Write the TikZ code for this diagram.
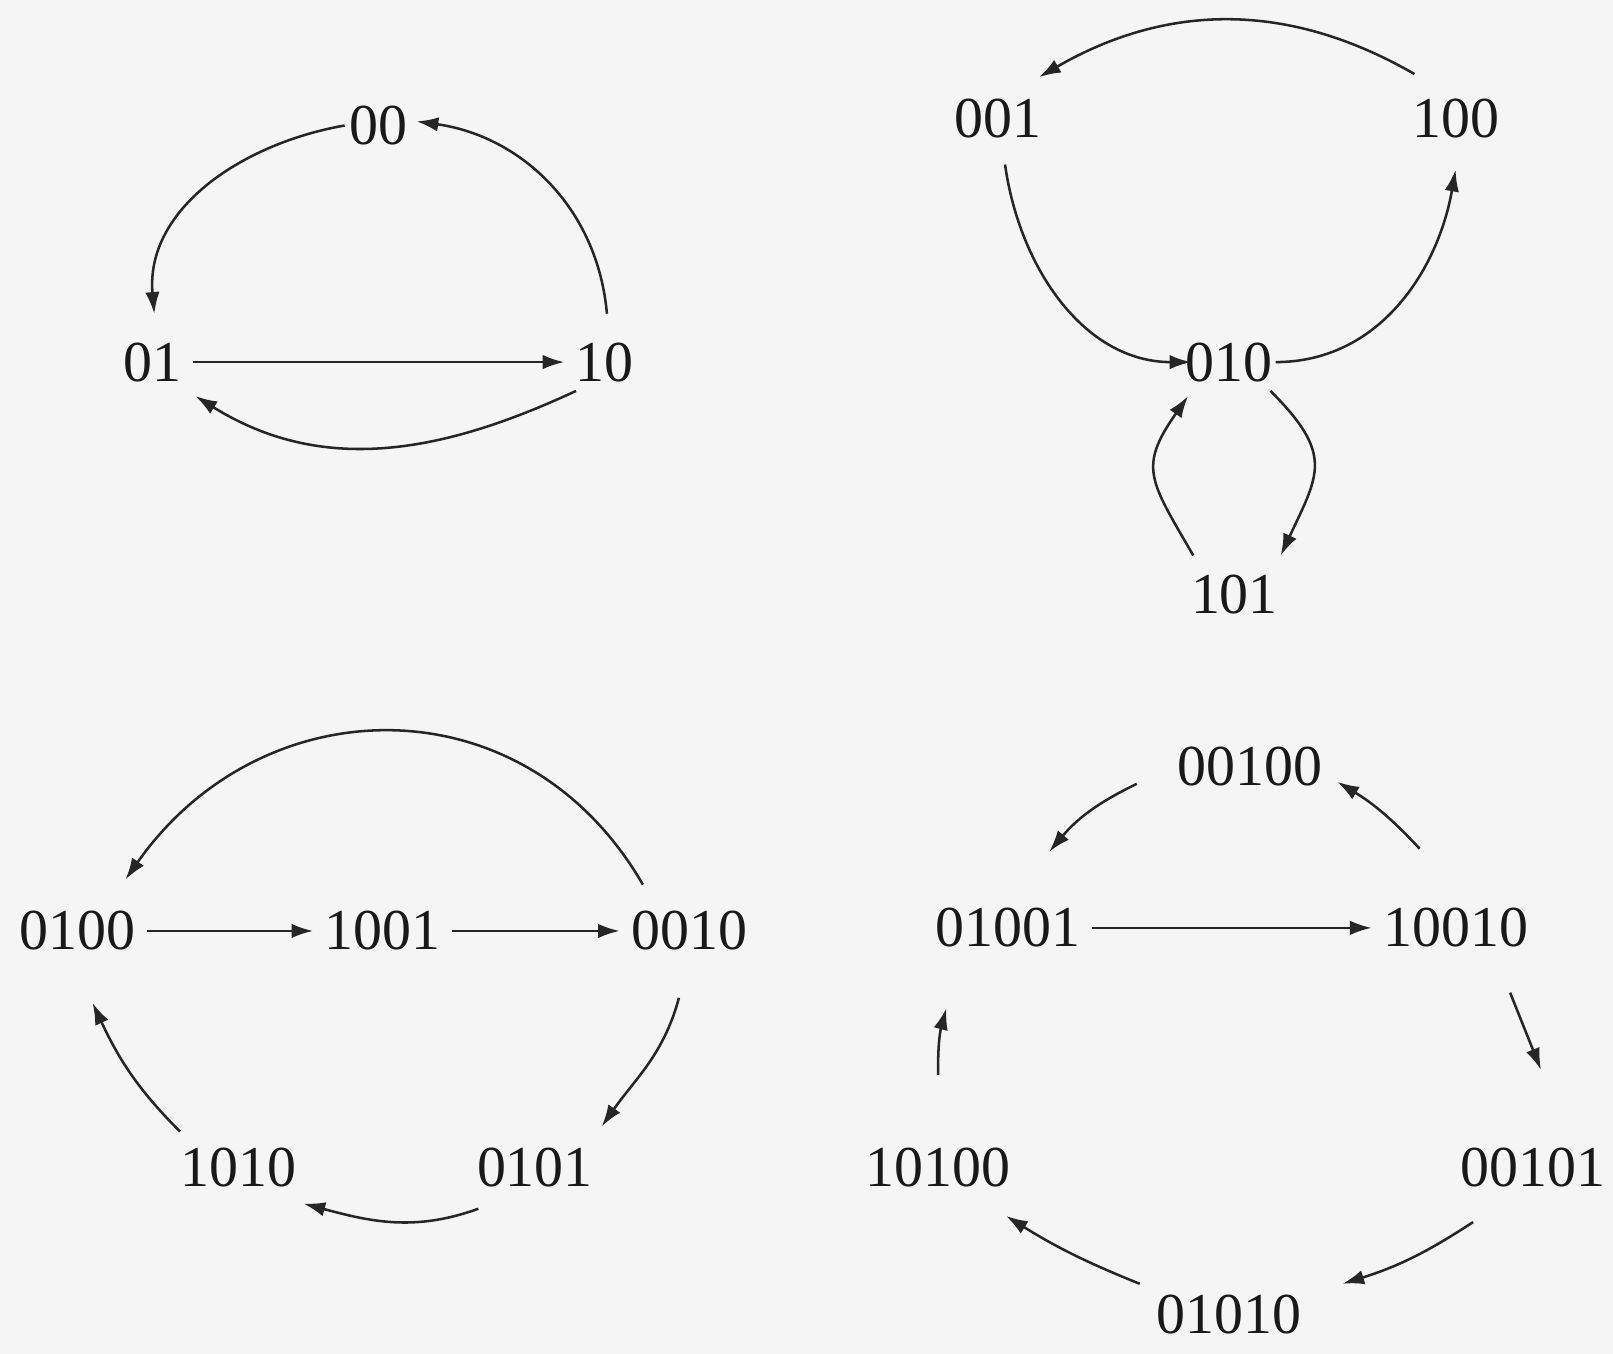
\documentclass[tikz,border=0pt]{standalone}
\usepackage{fontspec}
\setmainfont{Liberation Serif}
\usetikzlibrary{arrows.meta,calc}
\begin{document}
\begin{tikzpicture}[x=0.01cm,y=0.01cm,
  st/.style={inner sep=3pt, font=\fontsize{16}{18}\selectfont, text=black!90},
  arr/.style={-{Latex[length=6pt,width=4pt]}, line width=0.7pt, draw=black!85},
]
\fill[black!4] (0,0) rectangle (1568,-1316);
\useasboundingbox (0,0) rectangle (1568,-1316);

% ---------- graph 1 ----------
\node[st] (n00) at (368,-122) {00};
\node[st] (n01) at (148,-352) {01};
\node[st] (n10) at (588,-352) {10};
\draw[arr] ($(n00)+(-33,0)$) to[out=190,in=95] ($(n01)+(2,47)$);
\draw[arr] ($(n10)+(2,47)$) to[out=95,in=-8] ($(n00)+(37,4)$);
\draw[arr] (n01.east) -- (n10.west);
\draw[arr] ($(n10)+(-28,-28)$) to[out=-155,in=-32] ($(n01)+(42,-33)$);

% ---------- graph 2 ----------
\node[st] (n001) at (970,-115) {001};
\node[st] (n100) at (1415,-115) {100};
\node[st] (n010) at (1195,-352) {010};
\node[st] (n101) at (1200,-578) {101};
\draw[arr] ($(n100)+(-40,43)$) to[out=150,in=30] ($(n001)+(40,40)$);
\draw[arr] ($(n001)+(7,-45)$) to[out=-82,in=180] ($(n010)+(-37,0)$);
\draw[arr] ($(n010)+(45,0)$) to[out=0,in=-100] ($(n100)+(0,-50)$);
\draw[arr] ($(n010)+(40,-28)$) to[out=-45,in=65,looseness=1.4] ($(n101)+(45,38)$);
\draw[arr] ($(n101)+(-40,38)$) to[out=120,in=-125,looseness=1.4] ($(n010)+(-40,-33)$);

% ---------- graph 3 ----------
\node[st] (n0100) at (75,-905) {0100};
\node[st] (n1001) at (372,-905) {1001};
\node[st] (n0010) at (670,-905) {0010};
\node[st] (n1010) at (232,-1135) {1010};
\node[st] (n0101) at (520,-1135) {0101};
\draw[arr] ($(n0010)+(-45,45)$) to[out=120,in=55,looseness=1.17] ($(n0100)+(47,50)$);
\draw[arr] (n0100.east) -- (n1001.west);
\draw[arr] (n1001.east) -- (n0010.west);
\draw[arr] ($(n0010)+(-10,-65)$) to[out=-105,in=55] ($(n0101)+(65,40)$);
\draw[arr] ($(n0101)+(-55,-40)$) to[out=-160,in=-15] ($(n1010)+(63,-35)$);
\draw[arr] ($(n1010)+(-57,35)$) to[out=135,in=-65] ($(n0100)+(15,-70)$);

% ---------- graph 4 ----------
\node[st] (n00100) at (1215,-745) {00100};
\node[st] (n01001) at (980,-902) {01001};
\node[st] (n10010) at (1415,-902) {10010};
\node[st] (n10100) at (912,-1135) {10100};
\node[st] (n00101) at (1490,-1135) {00101};
\node[st] (n01010) at (1195,-1278) {01010};
\draw[arr] ($(n10010)+(-35,77)$) to[bend right=8] ($(n00100)+(85,-15)$);
\draw[arr] ($(n00100)+(-110,-17)$) to[bend right=12] ($(n01001)+(40,74)$);
\draw[arr] (n01001.east) -- (n10010.west);
\draw[arr] ($(n10010)+(53,-63)$) -- ($(n00101)+(8,95)$);
\draw[arr] ($(n00101)+(-58,-53)$) to[bend left=8] ($(n01010)+(110,30)$);
\draw[arr] ($(n01010)+(-87,30)$) to[bend left=5] ($(n10100)+(66,-47)$);
\draw[arr] ($(n10100)+(0,90)$) to[bend left=8] ($(n01001)+(-60,-78)$);
\end{tikzpicture}
\end{document}
